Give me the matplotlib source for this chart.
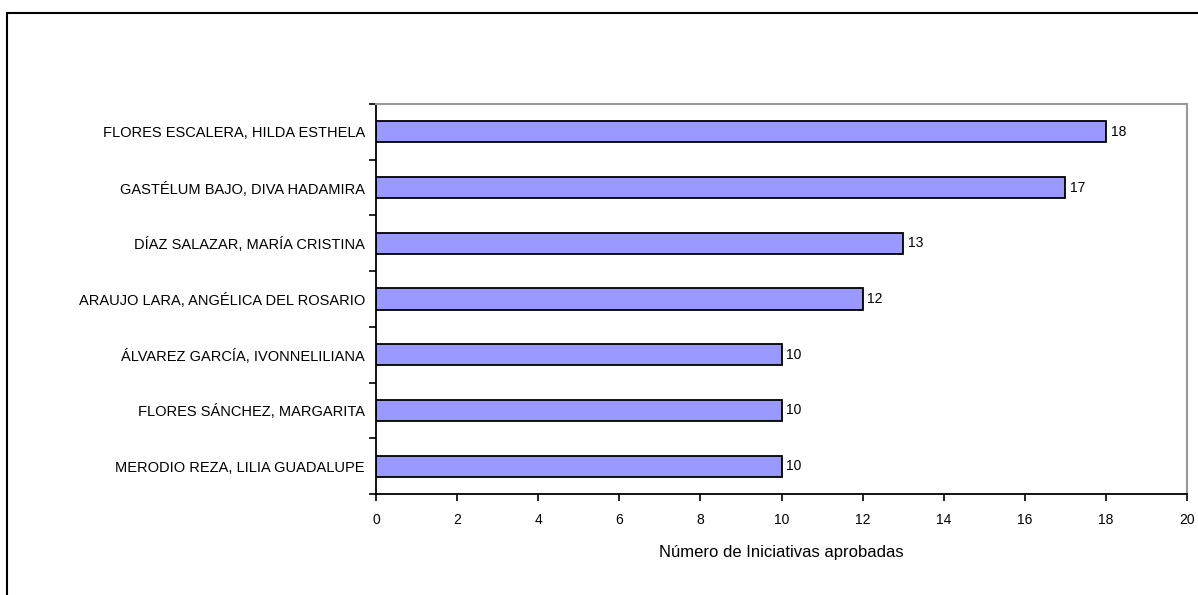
import matplotlib.pyplot as plt
from matplotlib.patches import Rectangle
from matplotlib.ticker import FixedLocator, NullFormatter

nombres = [
    'FLORES ESCALERA, HILDA ESTHELA',
    'GASTÉLUM BAJO, DIVA HADAMIRA',
    'DÍAZ SALAZAR, MARÍA CRISTINA',
    'ARAUJO LARA, ANGÉLICA DEL ROSARIO',
    'ÁLVAREZ GARCÍA, IVONNELILIANA',
    'FLORES SÁNCHEZ, MARGARITA',
    'MERODIO REZA, LILIA GUADALUPE',
]
iniciativas = [18, 17, 13, 12, 10, 10, 10]
xticks = list(range(0, 21, 2))

plt.rcParams['font.family'] = ['Liberation Sans', 'DejaVu Sans']

fig = plt.figure(figsize=(11.98, 5.95), dpi=100)
# marco exterior del gráfico (recortado a la derecha y abajo)
fig.patches.append(Rectangle((6.5 / 1198, -0.05), 1.2, 1 - 13 / 595 + 0.05,
                             transform=fig.transFigure, fill=False,
                             edgecolor='black', linewidth=1.5))

ax = fig.add_axes([376 / 1198, 1 - 494 / 595, (1187 - 376) / 1198, (494 - 104) / 595])
pos = list(range(len(nombres)))
bars = ax.barh(pos, iniciativas, height=0.38, color='#9999FF',
               edgecolor='black', linewidth=1.3)
for b, v in zip(bars, iniciativas):
    ax.text(b.get_width() + 0.12, b.get_y() + b.get_height() / 2, str(v),
            va='center', ha='left', fontsize=10)

ax.set_ylim(len(nombres) - 0.5, -0.5)
ax.set_xlim(0, 20)
ax.set_xticks(xticks)
ax.tick_params(axis='x', direction='out', length=5, width=1.2, labelsize=10, pad=9)
ax.set_yticks(pos)
ax.set_yticklabels(nombres, fontsize=10.5)
ax.tick_params(axis='y', which='major', length=0, pad=8)
ax.yaxis.set_minor_locator(FixedLocator([p - 0.5 for p in range(len(nombres) + 1)]))
ax.yaxis.set_minor_formatter(NullFormatter())
ax.tick_params(axis='y', which='minor', direction='out', length=5, width=1.2)

ax.spines['left'].set_linewidth(1.3)
ax.spines['bottom'].set_linewidth(1.3)
ax.spines['top'].set_color('#999999')
ax.spines['right'].set_color('#999999')
ax.spines['top'].set_linewidth(1.5)
ax.spines['right'].set_linewidth(1.5)

ax.set_xlabel('Número de Iniciativas aprobadas', fontsize=12, labelpad=13)

fig.savefig('out.png', dpi=100)
